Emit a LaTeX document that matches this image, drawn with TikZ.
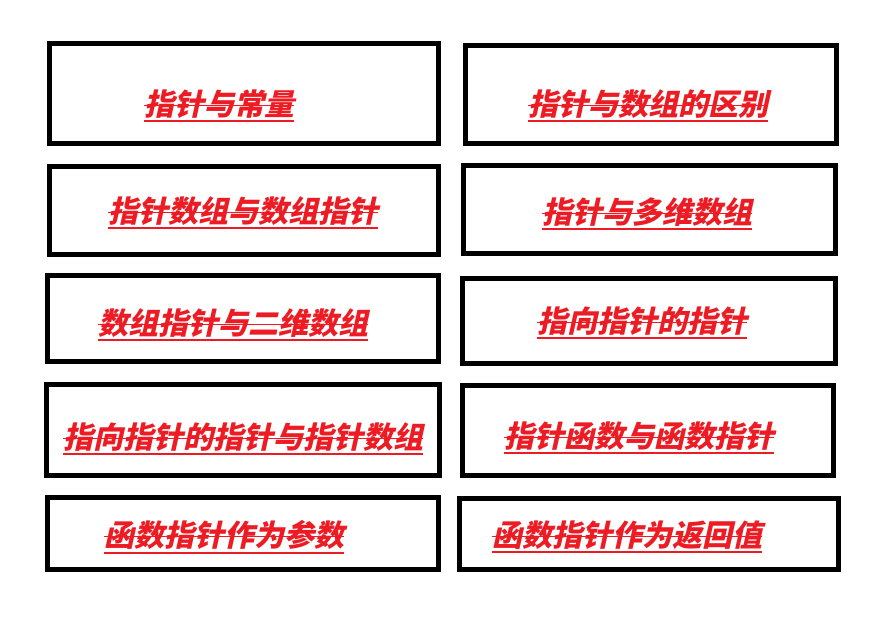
\documentclass[tikz,border=0pt]{standalone}
\usepackage{fontspec}
\newfontfamily\cjk[FakeSlant=0.22]{Noto Sans CJK SC Black}
\definecolor{titlered}{HTML}{ED1C24}
\tikzset{
  box/.style={draw=black, line width=5pt, rectangle, inner sep=0pt},
  ttl/.style={anchor=west, inner sep=0pt, outer sep=0pt, text=titlered, font=\cjk\fontsize{30}{30}\selectfont},
  uline/.style={draw=titlered, line width=2pt},
  sline/.style={draw=titlered, line width=0.6pt}
}
\newcommand{\ulin}[1]{%
  \draw[uline] ([yshift=-3pt]#1.south west) -- ([yshift=-3pt]#1.south east);
  \draw[sline] ([yshift=-1pt]#1.west) -- ([yshift=-1pt]#1.east);
}
\begin{document}
\begin{tikzpicture}[x=1pt,y=-1pt]
\useasboundingbox (0,0) rectangle (883,627);
% boxes
\node[box, minimum width=388.5pt, minimum height=100pt] (b1) at (243.75,93.5) {};
\node[box, minimum width=371pt, minimum height=98pt] (b2) at (651,94.5) {};
\node[box, minimum width=388.5pt, minimum height=88pt] (b3) at (243.75,210.5) {};
\node[box, minimum width=372pt, minimum height=87.5pt] (b4) at (649.5,209.25) {};
\node[box, minimum width=391pt, minimum height=86pt] (b5) at (243,318.5) {};
\node[box, minimum width=373pt, minimum height=85pt] (b6) at (649,321) {};
\node[box, minimum width=393pt, minimum height=91pt] (b7) at (243,430) {};
\node[box, minimum width=371pt, minimum height=90pt] (b8) at (648,430.5) {};
\node[box, minimum width=391pt, minimum height=72pt] (b9) at (243,533.5) {};
\node[box, minimum width=379pt, minimum height=71pt] (b10) at (649,534) {};
% titles
\node[ttl] (t1) at (144,104) {指针与常量};
\node[ttl] (t2) at (528,104) {指针与数组的区别};
\node[ttl] (t3) at (108,211) {指针数组与数组指针};
\node[ttl] (t4) at (542,212) {指针与多维数组};
\node[ttl] (t5) at (98,323) {数组指针与二维数组};
\node[ttl] (t6) at (537,321) {指向指针的指针};
\node[ttl] (t7) at (63,437) {指向指针的指针与指针数组};
\node[ttl] (t8) at (504,436) {指针函数与函数指针};
\node[ttl] (t9) at (104,535) {函数指针作为参数};
\node[ttl] (t10) at (492,535) {函数指针作为返回值};
\ulin{t1}\ulin{t2}\ulin{t3}\ulin{t4}\ulin{t5}
\ulin{t6}\ulin{t7}\ulin{t8}\ulin{t9}\ulin{t10}
\end{tikzpicture}
\end{document}
